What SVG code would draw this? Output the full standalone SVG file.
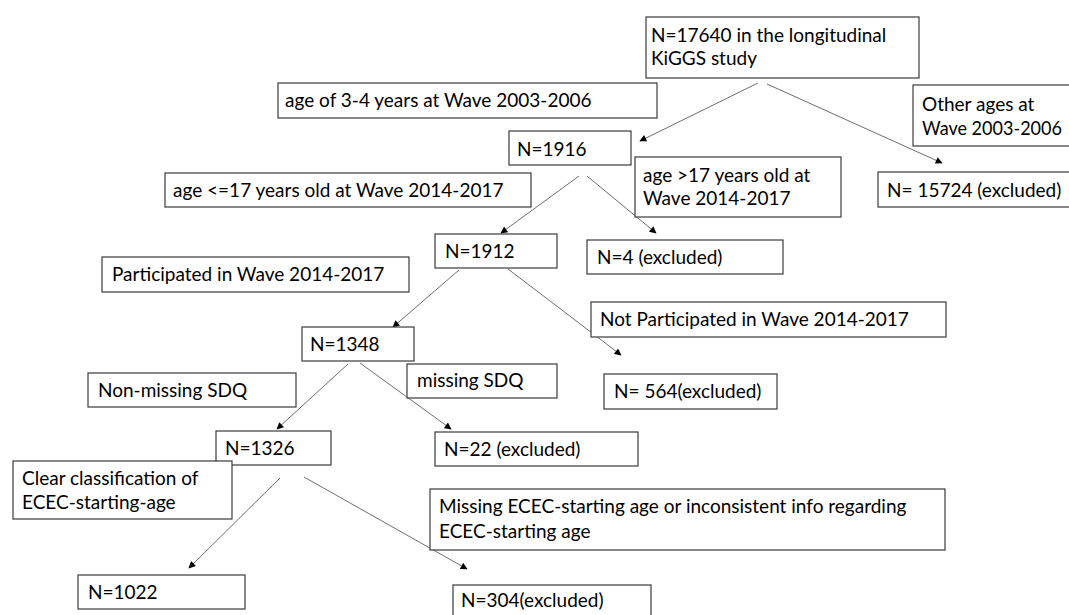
<svg xmlns="http://www.w3.org/2000/svg" width="1069" height="615" viewBox="0 0 1069 615">
<defs>
<style>
.box{fill:#fff;stroke:#3a3a3a;stroke-width:1.2}
.t{font-family:Lato,"Liberation Sans",sans-serif;font-size:19px;fill:#000}
.c{stroke:#6e6e6e;stroke-width:1;fill:none;marker-end:url(#ah)}
</style>
<marker id="ah" viewBox="0 0 10 10" refX="9" refY="5" markerWidth="8" markerHeight="7" markerUnits="userSpaceOnUse" orient="auto">
<path d="M0,0 L10,5 L0,10 z" fill="#000"/>
</marker>
</defs>
<rect width="1069" height="615" fill="#fff"/>
<g id="connectors">
<line class="c" x1="758" y1="83" x2="640" y2="141"/>
<line class="c" x1="767" y1="84" x2="942" y2="163"/>
<line class="c" x1="579" y1="176" x2="501" y2="233"/>
<line class="c" x1="587" y1="176" x2="656" y2="233"/>
<line class="c" x1="459" y1="270" x2="393" y2="327"/>
<line class="c" x1="508" y1="269" x2="621" y2="355"/>
<line class="c" x1="348" y1="364" x2="277" y2="429"/>
<line class="c" x1="360" y1="363" x2="451" y2="429"/>
<line class="c" x1="280" y1="478" x2="189" y2="568"/>
<line class="c" x1="304" y1="477" x2="467" y2="569"/>
</g>
<g id="n17640"><rect class="box" x="646" y="17" width="273" height="61"/><text class="t" x="651" y="42">N=17640 in the longitudinal</text><text class="t" x="651" y="65">KiGGS study</text></g>
<g id="l-age34"><rect class="box" x="278" y="83" width="379" height="35"/><text class="t" x="285" y="107">age of 3-4 years at Wave 2003-2006</text></g>
<g id="l-otherages"><rect class="box" x="913" y="85" width="170" height="61"/><text class="t" x="922" y="111">Other ages at</text><text class="t" x="922" y="135" textLength="140" lengthAdjust="spacingAndGlyphs">Wave 2003-2006</text></g>
<g id="n1916"><rect class="box" x="509" y="131" width="122" height="34"/><text class="t" x="517" y="156">N=1916</text></g>
<g id="l-le17"><rect class="box" x="165" y="173" width="366" height="34"/><text class="t" x="173" y="197">age &lt;=17 years old at Wave 2014-2017</text></g>
<g id="l-gt17"><rect class="box" x="635" y="157" width="206" height="60"/><text class="t" x="643" y="182">age &gt;17 years old at</text><text class="t" x="643" y="205">Wave 2014-2017</text></g>
<g id="n15724"><rect class="box" x="878" y="172" width="200" height="35"/><text class="t" x="887" y="197">N= 15724 (excluded)</text></g>
<g id="n1912"><rect class="box" x="435" y="234" width="122" height="34"/><text class="t" x="445" y="258">N=1912</text></g>
<g id="n4"><rect class="box" x="587" y="240" width="196" height="34"/><text class="t" x="597" y="264">N=4 (excluded)</text></g>
<g id="l-part"><rect class="box" x="102" y="257" width="307" height="35"/><text class="t" x="112" y="281">Participated in Wave 2014-2017</text></g>
<g id="l-notpart"><rect class="box" x="591" y="302" width="355" height="35"/><text class="t" x="600" y="326">Not Participated in Wave 2014-2017</text></g>
<g id="n1348"><rect class="box" x="302" y="327" width="112" height="34"/><text class="t" x="310" y="351">N=1348</text></g>
<g id="l-missing"><rect class="box" x="407" y="364" width="150" height="34"/><text class="t" x="417" y="387">missing SDQ</text></g>
<g id="l-nonmissing"><rect class="box" x="88" y="373" width="208" height="34"/><text class="t" x="98" y="397">Non-missing SDQ</text></g>
<g id="n564"><rect class="box" x="604" y="374" width="173" height="35"/><text class="t" x="614" y="398">N= 564(excluded)</text></g>
<g id="n1326"><rect class="box" x="216" y="431" width="115" height="34"/><text class="t" x="225" y="455">N=1326</text></g>
<g id="n22"><rect class="box" x="435" y="432" width="203" height="34"/><text class="t" x="444" y="456">N=22 (excluded)</text></g>
<g id="l-clear"><rect class="box" x="13" y="461" width="219" height="58"/><text class="t" x="22" y="485">Clear classification of</text><text class="t" x="22" y="509">ECEC-starting-age</text></g>
<g id="l-missingecec"><rect class="box" x="430" y="489" width="515" height="61"/><text class="t" x="439" y="513">Missing ECEC-starting age or inconsistent info regarding</text><text class="t" x="439" y="538">ECEC-starting age</text></g>
<g id="n1022"><rect class="box" x="78" y="575" width="167" height="34"/><text class="t" x="88" y="599">N=1022</text></g>
<g id="n304"><rect class="box" x="453" y="585" width="198" height="40"/><text class="t" x="461" y="607">N=304(excluded)</text></g>
</svg>
